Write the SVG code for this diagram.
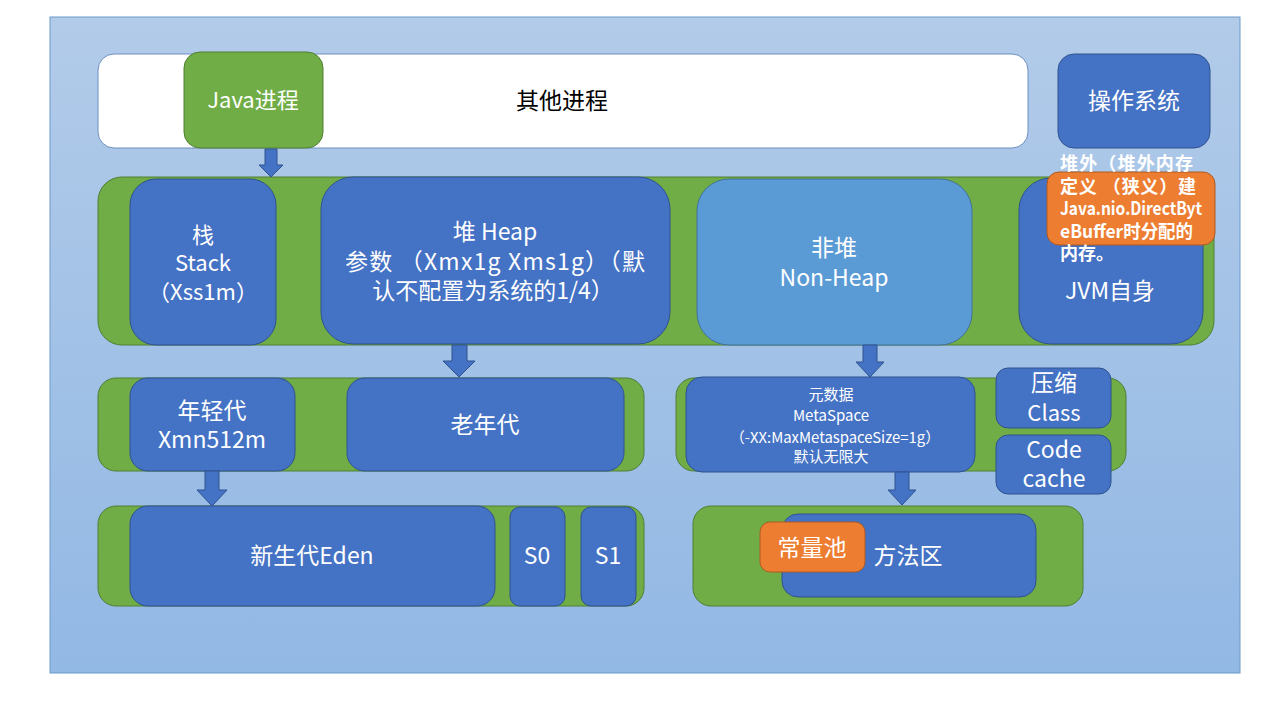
<svg xmlns="http://www.w3.org/2000/svg" width="1280" height="720" viewBox="0 0 1280 720">
<defs>
<linearGradient id="bg" x1="0" y1="0" x2="0" y2="1">
<stop offset="0" stop-color="#b2cbe9"/>
<stop offset="1" stop-color="#92b8e4"/>
</linearGradient>
</defs>
<style>
text{font-family:"Noto Sans CJK SC","Noto Sans",sans-serif;fill:#fff;text-anchor:middle}
.blue{fill:#4472c4;stroke:#2f528f;stroke-width:1}
.lblue{fill:#5b9bd5;stroke:#41719c;stroke-width:1}
.green{fill:#70ad47;stroke:#507e32;stroke-width:1}
.orange{fill:#ed7d31;stroke:#ae5a21;stroke-width:1}
.arrow{fill:#4472c4;stroke:#2f528f;stroke-width:1}
.t23{font-size:23px}
.t22{font-size:22px}
.t15{font-size:15px}
.ob{font-size:18px;font-weight:bold;text-anchor:start}
</style>
<rect width="1280" height="720" fill="#fff"/>
<rect x="50" y="17" width="1190" height="656" fill="url(#bg)" stroke="#6d99cc" stroke-width="1"/>

<g id="other-process">
<rect x="98" y="54" width="930" height="94" rx="16" fill="#fff" stroke="#6d8fc0"/>
<text x="562" y="109" class="t23" style="fill:#000">其他进程</text>
</g>
<g id="java-process">
<rect x="184" y="52" width="139" height="96" rx="16" class="green"/>
<text x="253" y="108" class="t22">Java进程</text>
</g>
<g id="os">
<rect x="1058" y="54" width="152" height="94" rx="16" class="blue"/>
<text x="1134" y="109" class="t23">操作系统</text>
</g>

<g id="row1">
<rect x="98" y="177" width="1116" height="168" rx="24" class="green"/>
</g>
<g id="stack">
<rect x="130" y="179" width="146" height="166" rx="26" class="blue"/>
<text x="203" y="243" class="t22">栈</text>
<text x="203" y="271" class="t22">Stack</text>
<text x="203" y="300" class="t22">（Xss1m）</text>
</g>
<g id="heap">
<rect x="321" y="177" width="349" height="167" rx="32" class="blue"/>
<text x="495" y="240" class="t23">堆 Heap</text>
<text x="495" y="270" class="t23" textLength="300" lengthAdjust="spacing">参数 （Xmx1g Xms1g）（默</text>
<text x="493" y="299" class="t23">认不配置为系统的1/4）</text>
</g>
<g id="nonheap">
<rect x="697" y="179" width="275" height="166" rx="32" class="lblue"/>
<text x="834" y="256" class="t23">非堆</text>
<text x="834" y="286" class="t23">Non-Heap</text>
</g>
<g id="jvm">
<rect x="1019" y="178" width="184" height="166" rx="32" class="blue"/>
<text x="1110" y="299" class="t23">JVM自身</text>
</g>
<g id="offheap">
<rect x="1047" y="172" width="168" height="73" rx="12" class="orange"/>
<text x="1060" y="170" class="ob" textLength="133" lengthAdjust="spacing">堆外（堆外内存</text>
<text x="1060" y="193" class="ob" textLength="136" lengthAdjust="spacing">定义 （狭义）建</text>
<text x="1060" y="215" class="ob" textLength="142" lengthAdjust="spacingAndGlyphs">Java.nio.DirectByt</text>
<text x="1060" y="238" class="ob" textLength="133" lengthAdjust="spacingAndGlyphs">eBuffer时分配的</text>
<text x="1060" y="260" class="ob">内存。</text>
</g>

<g id="row2-heap">
<rect x="98" y="378" width="546" height="93" rx="18" class="green"/>
</g>
<g id="young">
<rect x="130" y="378" width="165" height="93" rx="18" class="blue"/>
<text x="212" y="419" class="t23">年轻代</text>
<text x="212" y="448" class="t23">Xmn512m</text>
</g>
<g id="old">
<rect x="347" y="378" width="277" height="93" rx="18" class="blue"/>
<text x="485" y="433" class="t23">老年代</text>
</g>

<g id="row3-heap">
<rect x="98" y="506" width="546" height="100" rx="18" class="green"/>
</g>
<g id="eden">
<rect x="130" y="506" width="365" height="100" rx="18" class="blue"/>
<text x="312" y="564" class="t23">新生代Eden</text>
</g>
<g id="s0">
<rect x="510" y="507" width="55" height="99" rx="10" class="blue"/>
<text x="537" y="564" class="t23">S0</text>
</g>
<g id="s1">
<rect x="581" y="507" width="55" height="99" rx="10" class="blue"/>
<text x="608" y="564" class="t23">S1</text>
</g>

<g id="row2-nonheap">
<rect x="676" y="378" width="450" height="93" rx="18" class="green"/>
</g>
<g id="metaspace">
<rect x="686" y="377" width="289" height="95" rx="16" class="blue"/>
<text x="831" y="400" class="t15">元数据</text>
<text x="831" y="421" class="t15">MetaSpace</text>
<text x="835" y="443" class="t15" textLength="210" lengthAdjust="spacingAndGlyphs">（-XX:MaxMetaspaceSize=1g）</text>
<text x="831" y="462" class="t15">默认无限大</text>
</g>
<g id="compressed-class">
<rect x="996" y="368" width="115" height="60" rx="12" class="blue"/>
<text x="1054" y="391" class="t23">压缩</text>
<text x="1054" y="421" class="t22">Class</text>
</g>
<g id="code-cache">
<rect x="996" y="435" width="115" height="59" rx="12" class="blue"/>
<text x="1054" y="458" class="t23">Code</text>
<text x="1054" y="487" class="t23">cache</text>
</g>

<g id="row3-nonheap">
<rect x="693" y="506" width="390" height="100" rx="18" class="green"/>
</g>
<g id="method-area">
<rect x="782" y="514" width="254" height="83" rx="16" class="blue"/>
<text x="908" y="564" class="t23">方法区</text>
</g>
<g id="constant-pool">
<rect x="760" y="522" width="105" height="50" rx="10" class="orange"/>
<text x="812" y="556" class="t23">常量池</text>
</g>

<g id="connectors">
<polygon class="arrow" points="265,149 277,149 277,165 283,165 271,177 259,165 265,165"/>
<polygon class="arrow" points="452,345 467,345 467,361 475,361 459,377 443,361 452,361"/>
<polygon class="arrow" points="863,345 877,345 877,362 884,362 870,377 856,362 863,362"/>
<polygon class="arrow" points="205,471 219,471 219,490 227,490 212,506 197,490 205,490"/>
<polygon class="arrow" points="895,472 909,472 909,490 916,490 902,505 888,490 895,490"/>
</g>
</svg>
